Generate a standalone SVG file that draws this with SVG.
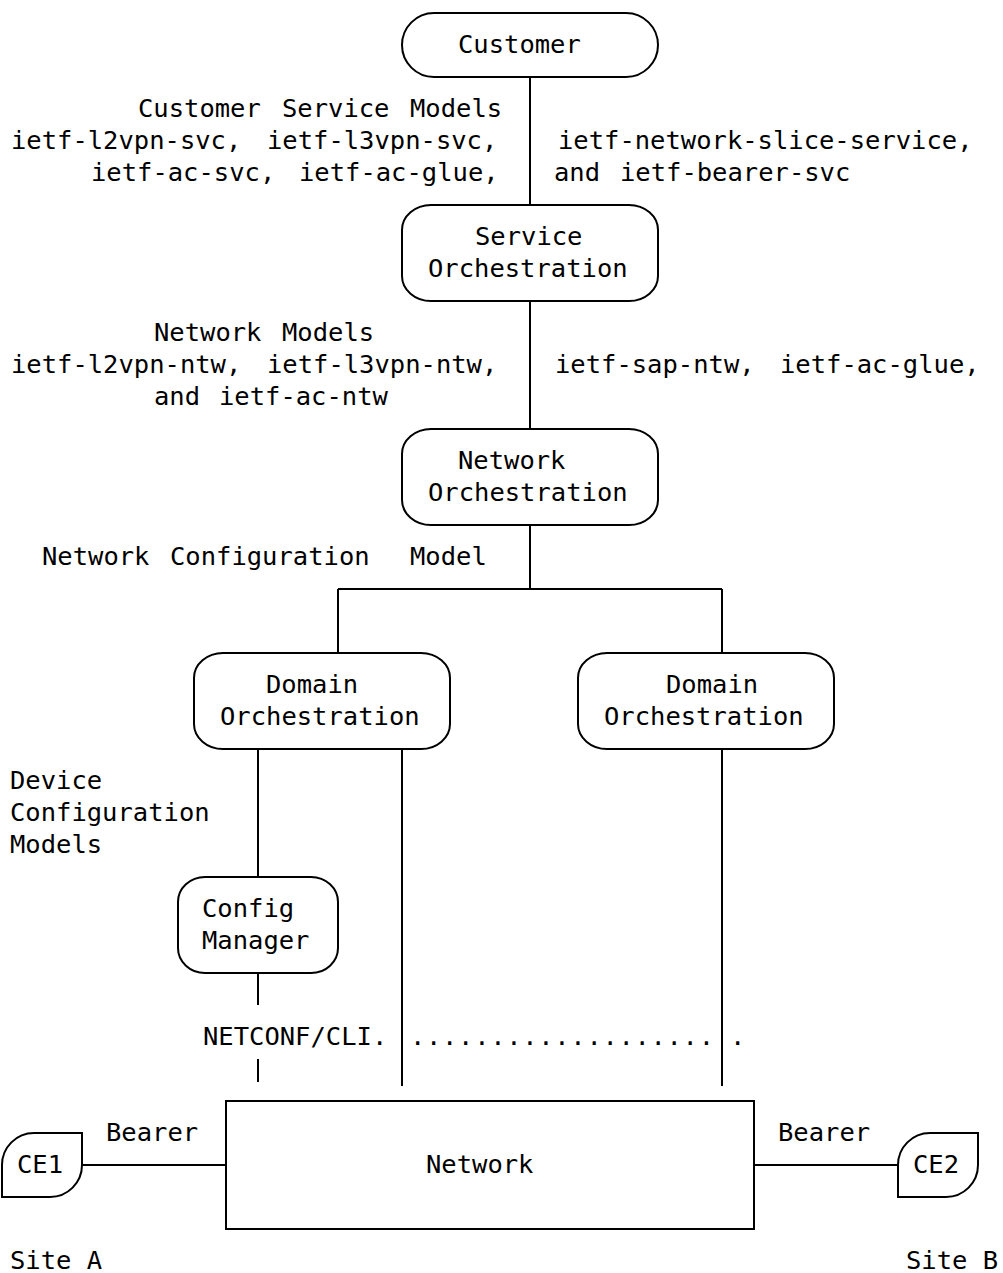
<svg xmlns="http://www.w3.org/2000/svg" width="1003" height="1273" viewBox="0 0 1003 1273">
<style>
  .bg { fill: #ffffff; }
  .box { fill: none; stroke: #000000; stroke-width: 2; }
  .ln { fill: none; stroke: #000000; stroke-width: 2; }
  text { font-family: "DejaVu Sans Mono", "Liberation Mono", monospace; font-size: 25.5px; fill: #000000; }
</style>
<rect class="bg" x="0" y="0" width="1003" height="1273"/>

<g id="connectors">
  <line class="ln" x1="530" y1="77" x2="530" y2="205"/>
  <line class="ln" x1="530" y1="301" x2="530" y2="429"/>
  <line class="ln" x1="530" y1="525" x2="530" y2="589"/>
  <line class="ln" x1="338" y1="589" x2="722" y2="589"/>
  <line class="ln" x1="338" y1="589" x2="338" y2="653"/>
  <line class="ln" x1="722" y1="589" x2="722" y2="653"/>
  <line class="ln" x1="258" y1="749" x2="258" y2="877"/>
  <line class="ln" x1="402" y1="749" x2="402" y2="1086"/>
  <line class="ln" x1="722" y1="749" x2="722" y2="1086"/>
  <line class="ln" x1="258" y1="973" x2="258" y2="1005"/>
  <line class="ln" x1="258" y1="1059" x2="258" y2="1082"/>
  <line class="ln" x1="82" y1="1165" x2="226" y2="1165"/>
  <line class="ln" x1="754" y1="1165" x2="898" y2="1165"/>
</g>

<g id="labels">
  <text x="138" y="116.5">Customer</text>
  <text x="282" y="116.5">Service</text>
  <text x="410" y="116.5">Models</text>
  <text x="11" y="148.5">ietf-l2vpn-svc,</text>
  <text x="267" y="148.5">ietf-l3vpn-svc,</text>
  <text x="558" y="148.5">ietf-network-slice-service,</text>
  <text x="91" y="180.5">ietf-ac-svc,</text>
  <text x="299" y="180.5">ietf-ac-glue,</text>
  <text x="554" y="180.5">and</text>
  <text x="620" y="180.5">ietf-bearer-svc</text>

  <text x="154" y="340.5">Network</text>
  <text x="282" y="340.5">Models</text>
  <text x="11" y="372.5">ietf-l2vpn-ntw,</text>
  <text x="267" y="372.5">ietf-l3vpn-ntw,</text>
  <text x="555" y="372.5">ietf-sap-ntw,</text>
  <text x="780" y="372.5">ietf-ac-glue,</text>
  <text x="154" y="404.5">and</text>
  <text x="219" y="404.5">ietf-ac-ntw</text>

  <text x="42" y="564.5">Network</text>
  <text x="170" y="564.5">Configuration</text>
  <text x="410" y="564.5">Model</text>

  <text x="10" y="788.5">Device</text>
  <text x="10" y="820.5">Configuration</text>
  <text x="10" y="852.5">Models</text>

  <text x="203" y="1044.5">NETCONF/CLI.</text>
  <text x="410" y="1044.5" textLength="304" lengthAdjust="spacing">...................</text>
  <text x="730" y="1044.5">.</text>

  <text x="106" y="1140.5">Bearer</text>
  <text x="778" y="1140.5">Bearer</text>

  <text x="10" y="1268.5">Site A</text>
  <text x="906" y="1268.5">Site B</text>
</g>

<g id="customer">
  <path class="box" d="M434,13 L626,13 A32,32 0 0,1 626,77 L434,77 A32,32 0 0,1 434,13 Z"/>
  <text x="458" y="52.5">Customer</text>
</g>

<g id="service-orchestration">
  <rect class="box" x="402" y="205" width="256" height="96" rx="29" ry="25"/>
  <text x="475" y="244.5">Service</text>
  <text x="428" y="276.5">Orchestration</text>
</g>

<g id="network-orchestration">
  <rect class="box" x="402" y="429" width="256" height="96" rx="29" ry="25"/>
  <text x="458" y="468.5">Network</text>
  <text x="428" y="500.5">Orchestration</text>
</g>

<g id="domain-orchestration-left">
  <rect class="box" x="194" y="653" width="256" height="96" rx="29" ry="25"/>
  <text x="266" y="692.5">Domain</text>
  <text x="220" y="724.5">Orchestration</text>
</g>

<g id="domain-orchestration-right">
  <rect class="box" x="578" y="653" width="256" height="96" rx="29" ry="25"/>
  <text x="666" y="692.5">Domain</text>
  <text x="604" y="724.5">Orchestration</text>
</g>

<g id="config-manager">
  <rect class="box" x="178" y="877" width="160" height="96" rx="27" ry="25"/>
  <text x="202" y="916.5">Config</text>
  <text x="202" y="948.5">Manager</text>
</g>

<g id="network">
  <rect class="box" x="226" y="1101" width="528" height="128"/>
  <text x="426" y="1172.5">Network</text>
</g>

<g id="ce1">
  <path class="box" d="M2,1197 L2,1165 A32,32 0 0,1 34,1133 L82,1133 L82,1165 A32,32 0 0,1 50,1197 Z"/>
  <text x="17" y="1172.5">CE1</text>
</g>

<g id="ce2">
  <path class="box" d="M898,1197 L898,1165 A32,32 0 0,1 930,1133 L978,1133 L978,1165 A32,32 0 0,1 946,1197 Z"/>
  <text x="913" y="1172.5">CE2</text>
</g>
</svg>
